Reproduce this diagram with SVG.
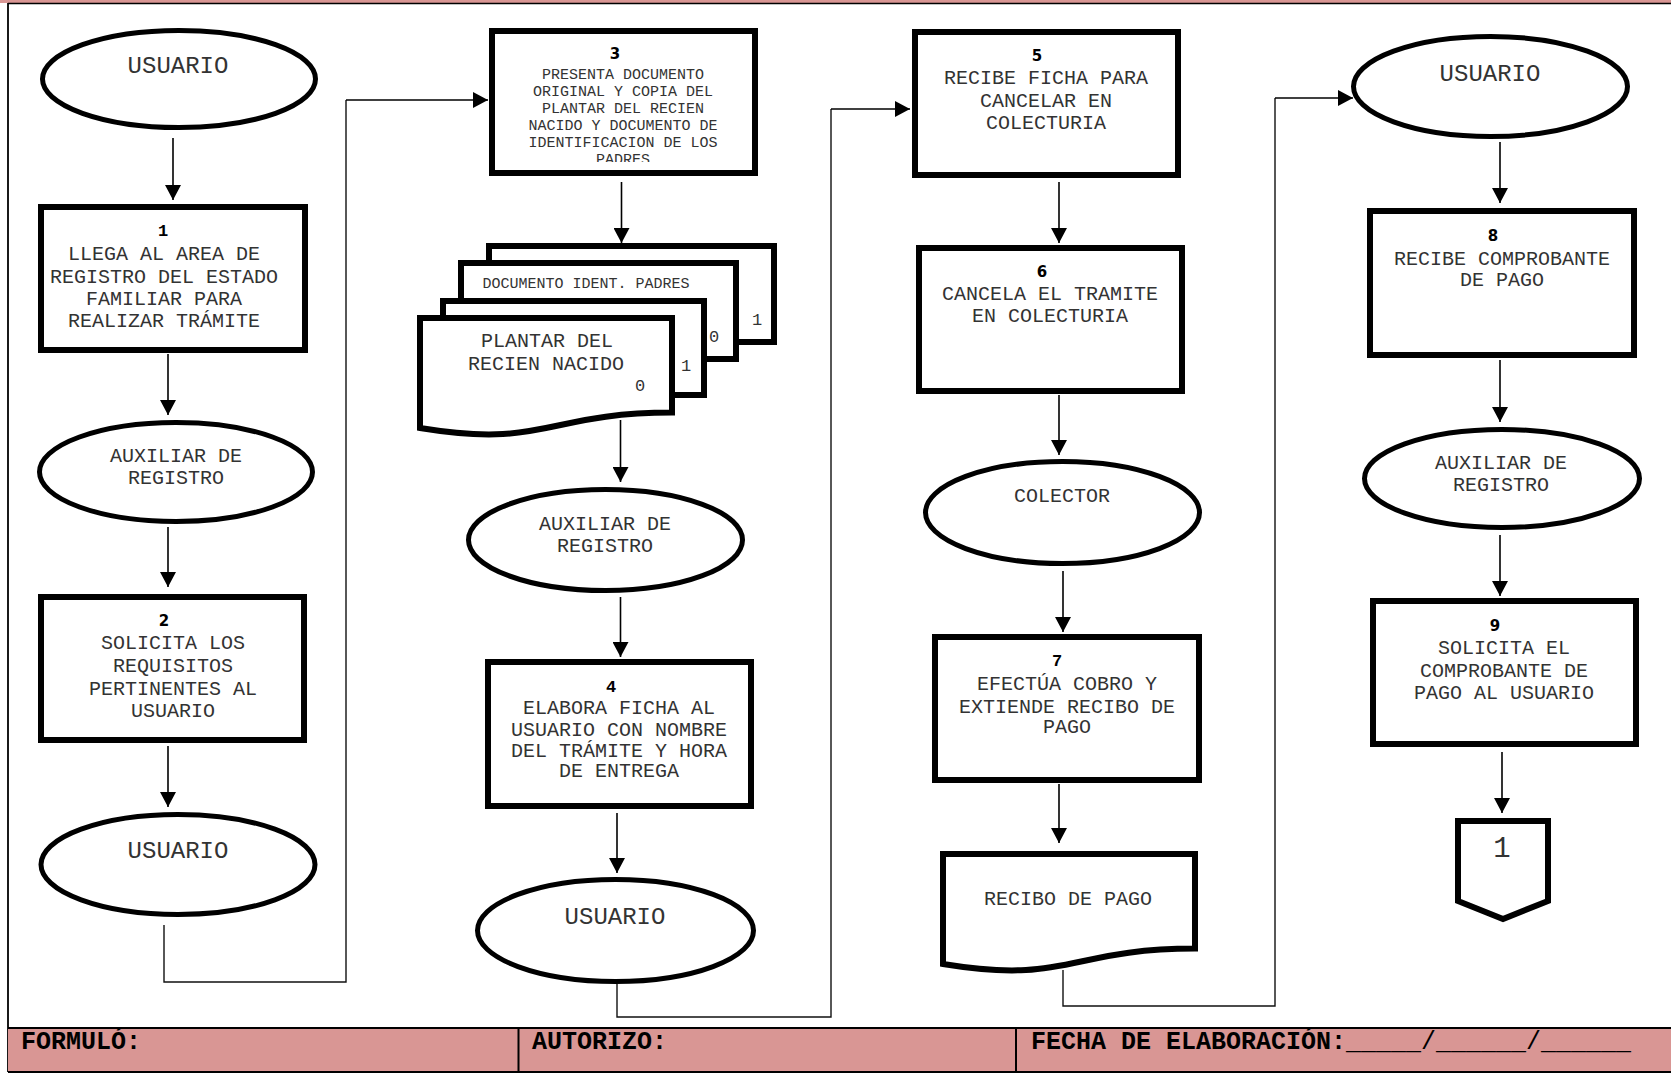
<svg xmlns="http://www.w3.org/2000/svg" width="1671" height="1074" viewBox="0 0 1671 1074">
  <defs>
    <style>
      .box { fill: #fff; stroke: #000; stroke-width: 6; }
      .oval { fill: #fff; stroke: #000; stroke-width: 5; }
      .doc { fill: #fff; stroke: #000; stroke-width: 6; stroke-linejoin: miter; }
      .t { font-family: "Liberation Mono", "Courier New", monospace; font-size: 20px; fill: #333; text-anchor: middle; }
      .tu { font-size: 24px; }
      .ts { font-size: 15px; }
      .tn { font-size: 17px; }
      .num { font-family: "DejaVu Sans", Verdana, sans-serif; font-weight: bold; font-size: 15px; fill: #000; text-anchor: middle; }
      .numc { font-family: "Liberation Mono", "Courier New", monospace; font-weight: bold; font-size: 17px; fill: #000; text-anchor: middle; }
      .arrow { fill: none; stroke: #000; stroke-width: 1.6; marker-end: url(#head); }
      .link { fill: none; stroke: #111; stroke-width: 1.4; }
      .foot { font-family: "Liberation Mono", "Courier New", monospace; font-weight: bold; font-size: 25px; fill: #000; }
      .frame { stroke: #000; fill: none; }
    </style>
    <marker id="head" markerUnits="userSpaceOnUse" markerWidth="16" markerHeight="16" refX="15" refY="8" orient="auto">
      <path d="M0,0 L15,8 L0,16 z" fill="#000"/>
    </marker>
    <clipPath id="clip3">
      <rect x="495" y="34" width="257" height="128"/>
    </clipPath>
  </defs>

  <rect width="1671" height="1074" fill="#fff"/>

  <!-- page frame -->
  <g id="frame">
    <rect x="0" y="0" width="1671" height="3" fill="#d99694"/>
    <line class="frame" x1="8" y1="3.5" x2="1671" y2="3.5" stroke-width="1.5"/>
    <line class="frame" x1="8" y1="3" x2="8" y2="1072" stroke-width="1.8"/>
  </g>

  <!-- connectors -->
  <g id="connectors">
    <path class="arrow" d="M173,138 V200"/>
    <path class="arrow" d="M168,354 V415"/>
    <path class="arrow" d="M168,527 V587"/>
    <path class="arrow" d="M168,746 V807"/>
    <path class="link" d="M164,925 V982 H346 V100"/>
    <path class="arrow" d="M346,100 H488"/>

    <path class="arrow" d="M621.5,182 V243"/>
    <path class="arrow" d="M620.5,420 V482"/>
    <path class="arrow" d="M620.5,597 V657"/>
    <path class="arrow" d="M617,813 V873"/>
    <path class="link" d="M617,984 V1017 H831 V109"/>
    <path class="arrow" d="M831,109 H910"/>

    <path class="arrow" d="M1059,182 V243"/>
    <path class="arrow" d="M1059,395 V455"/>
    <path class="arrow" d="M1063,571 V632"/>
    <path class="arrow" d="M1059,784 V843"/>
    <path class="link" d="M1063,970 V1006 H1275 V98"/>
    <path class="arrow" d="M1275,98 H1353"/>

    <path class="arrow" d="M1500,142 V203"/>
    <path class="arrow" d="M1500,360 V422"/>
    <path class="arrow" d="M1500,535 V596"/>
    <path class="arrow" d="M1502,752 V813"/>
  </g>

  <!-- column 1 -->
  <g id="usuario-1">
    <ellipse class="oval" cx="179" cy="79" rx="136.5" ry="48.5"/>
    <text class="t tu" x="178" y="73">USUARIO</text>
  </g>
  <g id="paso-1">
    <rect class="box" x="41" y="207" width="264" height="143"/>
    <text class="numc" x="163" y="236">1</text>
    <text class="t" x="164" y="260">LLEGA AL AREA DE</text>
    <text class="t" x="164" y="283">REGISTRO DEL ESTADO</text>
    <text class="t" x="164" y="305">FAMILIAR PARA</text>
    <text class="t" x="164" y="327">REALIZAR TRÁMITE</text>
  </g>
  <g id="auxiliar-1">
    <ellipse class="oval" cx="176" cy="472" rx="136.5" ry="49.5"/>
    <text class="t" x="176" y="462">AUXILIAR DE</text>
    <text class="t" x="176" y="484">REGISTRO</text>
  </g>
  <g id="paso-2">
    <rect class="box" x="41" y="597" width="263" height="143"/>
    <text class="num" x="164" y="626">2</text>
    <text class="t" x="173" y="649">SOLICITA LOS</text>
    <text class="t" x="173" y="672">REQUISITOS</text>
    <text class="t" x="173" y="695">PERTINENTES AL</text>
    <text class="t" x="173" y="717">USUARIO</text>
  </g>
  <g id="usuario-2">
    <ellipse class="oval" cx="178" cy="864.5" rx="137" ry="50"/>
    <text class="t tu" x="178" y="858">USUARIO</text>
  </g>

  <!-- column 2 -->
  <g id="paso-3">
    <rect class="box" x="492" y="31" width="263" height="142"/>
    <text class="num" x="615" y="59">3</text>
    <g clip-path="url(#clip3)">
      <text class="t ts" x="623" y="79">PRESENTA DOCUMENTO</text>
      <text class="t ts" x="623" y="96">ORIGINAL Y COPIA DEL</text>
      <text class="t ts" x="623" y="113">PLANTAR DEL RECIEN</text>
      <text class="t ts" x="623" y="130">NACIDO Y DOCUMENTO DE</text>
      <text class="t ts" x="623" y="147">IDENTIFICACION DE LOS</text>
      <text class="t ts" x="623" y="164">PADRES</text>
    </g>
  </g>
  <g id="documentos">
    <rect class="doc" x="489" y="246" width="285" height="96"/>
    <text class="t tn" x="757" y="325">1</text>
    <rect class="doc" x="461" y="263" width="275" height="96"/>
    <text class="t ts" x="586" y="288">DOCUMENTO IDENT. PADRES</text>
    <text class="t tn" x="714" y="342">0</text>
    <rect class="doc" x="443" y="301" width="261" height="94"/>
    <text class="t tn" x="686" y="371">1</text>
    <path class="doc" d="M420,318 H672 V412.6 C546,412.6 546,448.7 420,428 Z"/>
    <text class="t" x="547" y="347">PLANTAR DEL</text>
    <text class="t" x="546" y="370">RECIEN NACIDO</text>
    <text class="t tn" x="640" y="391">0</text>
  </g>
  <g id="auxiliar-2">
    <ellipse class="oval" cx="605.5" cy="540" rx="137" ry="50.5"/>
    <text class="t" x="605" y="530">AUXILIAR DE</text>
    <text class="t" x="605" y="552">REGISTRO</text>
  </g>
  <g id="paso-4">
    <rect class="box" x="488" y="662" width="263" height="144"/>
    <text class="numc" x="611" y="692">4</text>
    <text class="t" x="619" y="714">ELABORA FICHA AL</text>
    <text class="t" x="619" y="736">USUARIO CON NOMBRE</text>
    <text class="t" x="619" y="757">DEL TRÁMITE Y HORA</text>
    <text class="t" x="619" y="777">DE ENTREGA</text>
  </g>
  <g id="usuario-3">
    <ellipse class="oval" cx="615.5" cy="930.5" rx="138" ry="51"/>
    <text class="t tu" x="615" y="924">USUARIO</text>
  </g>

  <!-- column 3 -->
  <g id="paso-5">
    <rect class="box" x="915" y="32" width="263" height="143"/>
    <text class="num" x="1037" y="61">5</text>
    <text class="t" x="1046" y="84">RECIBE FICHA PARA</text>
    <text class="t" x="1046" y="107">CANCELAR EN</text>
    <text class="t" x="1046" y="129">COLECTURIA</text>
  </g>
  <g id="paso-6">
    <rect class="box" x="919" y="248" width="263" height="143"/>
    <text class="num" x="1042" y="277">6</text>
    <text class="t" x="1050" y="300">CANCELA EL TRAMITE</text>
    <text class="t" x="1050" y="322">EN COLECTURIA</text>
  </g>
  <g id="colector">
    <ellipse class="oval" cx="1062.5" cy="512.5" rx="137" ry="51"/>
    <text class="t" x="1062" y="502">COLECTOR</text>
  </g>
  <g id="paso-7">
    <rect class="box" x="935" y="637" width="264" height="143"/>
    <text class="numc" x="1057" y="666">7</text>
    <text class="t" x="1067" y="690">EFECTÚA COBRO Y</text>
    <text class="t" x="1067" y="713">EXTIENDE RECIBO DE</text>
    <text class="t" x="1067" y="733">PAGO</text>
  </g>
  <g id="recibo">
    <path class="doc" d="M943,854 H1195 V948.6 C1069,948.6 1069,984.7 943,964 Z"/>
    <text class="t" x="1068" y="905">RECIBO DE PAGO</text>
  </g>

  <!-- column 4 -->
  <g id="usuario-4">
    <ellipse class="oval" cx="1490.5" cy="86.5" rx="137" ry="50"/>
    <text class="t tu" x="1490" y="81">USUARIO</text>
  </g>
  <g id="paso-8">
    <rect class="box" x="1370" y="211" width="264" height="144"/>
    <text class="num" x="1493" y="241">8</text>
    <text class="t" x="1502" y="265">RECIBE COMPROBANTE</text>
    <text class="t" x="1502" y="286">DE PAGO</text>
  </g>
  <g id="auxiliar-3">
    <ellipse class="oval" cx="1502" cy="478.5" rx="137.5" ry="49"/>
    <text class="t" x="1501" y="469">AUXILIAR DE</text>
    <text class="t" x="1501" y="491">REGISTRO</text>
  </g>
  <g id="paso-9">
    <rect class="box" x="1373" y="601" width="263" height="143"/>
    <text class="num" x="1495" y="631">9</text>
    <text class="t" x="1504" y="654">SOLICITA EL</text>
    <text class="t" x="1504" y="677">COMPROBANTE DE</text>
    <text class="t" x="1504" y="699">PAGO AL USUARIO</text>
  </g>
  <g id="conector-1">
    <path class="doc" d="M1458,821 H1548 V901 L1503,919 L1458,901 Z"/>
    <text class="t" x="1502" y="857" style="font-size:29px">1</text>
  </g>

  <!-- signature strip -->
  <g id="pie">
    <rect x="8" y="1028" width="1663" height="44" fill="#d99694"/>
    <line class="frame" x1="8" y1="1028" x2="1671" y2="1028" stroke-width="2"/>
    <line class="frame" x1="8" y1="1072" x2="1671" y2="1072" stroke-width="2"/>
    <line class="frame" x1="518.5" y1="1028" x2="518.5" y2="1072" stroke-width="2"/>
    <line class="frame" x1="1016" y1="1028" x2="1016" y2="1072" stroke-width="2"/>
    <text class="foot" x="21" y="1049">FORMULÓ:</text>
    <text class="foot" x="532" y="1049">AUTORIZO:</text>
    <text class="foot" x="1031" y="1049">FECHA DE ELABORACIÓN:<tspan font-weight="normal">_____/______/______</tspan></text>
  </g>
</svg>
